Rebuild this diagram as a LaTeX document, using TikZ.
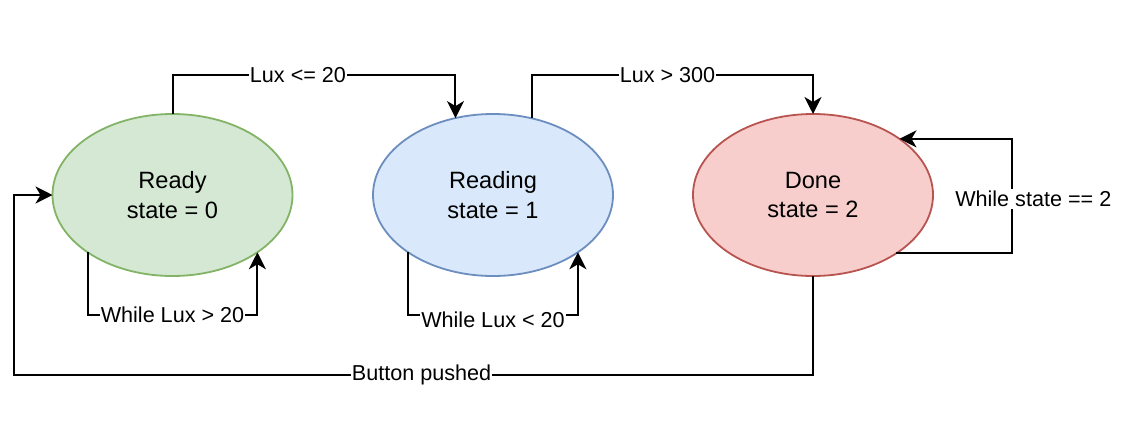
\documentclass[tikz,border=0pt]{standalone}
\usepackage{fontspec}
\setmainfont{Liberation Sans}
\usetikzlibrary{shapes.geometric,arrows.meta}
\definecolor{gfill}{HTML}{D5E8D4}
\definecolor{gline}{HTML}{82B366}
\definecolor{bfill}{HTML}{DAE8FC}
\definecolor{bline}{HTML}{6C8EBF}
\definecolor{rfill}{HTML}{F8CECC}
\definecolor{rline}{HTML}{B85450}
\begin{document}
\begin{tikzpicture}[x=1pt,y=-1pt,
  state/.style={ellipse, draw, line width=1.8pt, minimum width=240pt, minimum height=162pt,
    inner sep=0pt, outer sep=0pt, align=center, font=\fontsize{23.6}{29.5}\selectfont},
  conn/.style={line width=2pt, -{Stealth[length=17pt,width=17pt,inset=5pt]}},
  lbl/.style={fill=white, inner xsep=1pt, inner ysep=2pt, font=\fontsize{21.6}{26}\selectfont}]
\useasboundingbox (0,0) rectangle (1130,424);
\node[state, fill=gfill, draw=gline] (ready) at (172.5,195) {Ready\\state = 0};
\node[state, fill=bfill, draw=bline] (reading) at (493,195) {Reading\\state = 1};
\node[state, fill=rfill, draw=rline] (done) at (813,195) {Done\\state = 2};
\coordinate (bl) at (14,375);

\draw[conn] (ready.north) -- ++(0,-39) -| node[lbl, pos=0.25, xshift=-16pt] {Lux <= 20} (reading.116);
\draw[conn] (reading.63) -- ++(0,-43) -| node[lbl, pos=0.25, xshift=-5pt] {Lux > 300} (done.north);
\draw[conn] (ready.214) -- ++(0,63) -| node[lbl, pos=0.25] {While Lux > 20} (ready.326);
\draw[conn] (reading.214) -- ++(0,63) -| node[lbl, pos=0.25, yshift=-5pt] {While Lux < 20} (reading.326);
\draw[conn] (done.325) -- ++(116,0) |- node[lbl, pos=0.25, xshift=21pt, yshift=-3pt] {While state == 2} (done.33);
\draw[conn] (done.south) |- node[lbl, pos=0.75, xshift=8pt] {Button pushed} (bl) |- (ready.west);
\end{tikzpicture}
\end{document}
